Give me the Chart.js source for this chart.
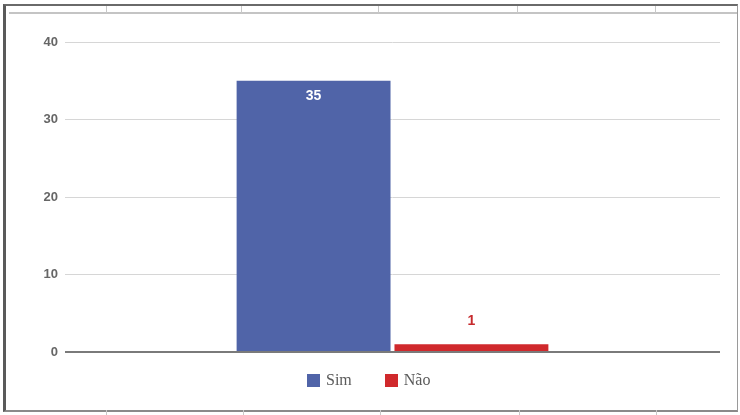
<!DOCTYPE html>
<html lang="pt">
<head>
    <meta charset="UTF-8">
    <meta name="viewport" content="width=device-width, initial-scale=1.0">
    <title>Sim / Não</title>
    <script src="https://cdn.jsdelivr.net/npm/chart.js"></script>
    <style>
        html, body {
            margin: 0;
            padding: 0;
            background: #ffffff;
        }

        .sheet {
            position: relative;
            width: 740px;
            height: 415px;
            overflow: hidden;
            background: #ffffff;
        }

        /* spreadsheet frame around the chart */
        .frame {
            position: absolute;
            left: 3px;
            top: 4px;
            width: 731px;
            height: 404px;
            border-left: 3px solid #5a5a5a;
            border-top: 2px solid #6a6a6a;
            border-right: 1px solid #9a9a9a;
            border-bottom: 2px solid #8a8a8a;
        }

        .inner-line {
            position: absolute;
            left: 9px;
            top: 12px;
            width: 728px;
            height: 2px;
            background: #c4c4c4;
        }

        .col {
            position: absolute;
            width: 1px;
            background: #c8c8c8;
        }

        #chart {
            position: absolute;
            left: 0;
            top: 0;
        }

        .legend {
            position: absolute;
            left: 307px;
            top: 371px;
            height: 18px;
            display: flex;
            align-items: center;
            font-family: 'Liberation Serif', 'DejaVu Serif', serif;
            font-size: 16px;
            color: #5a5a5a;
        }

        .legend div {
            display: flex;
            align-items: center;
            margin-right: 33px;
        }

        .legend span.box {
            width: 13px;
            height: 13px;
            display: inline-block;
            margin-right: 6px;
        }
    </style>
</head>
<body>
    <div class="sheet">
        <div class="frame"></div>
        <div class="inner-line"></div>
        <div class="col" style="left:106px; top:6px; height:7px"></div>
        <div class="col" style="left:241px; top:6px; height:7px"></div>
        <div class="col" style="left:378px; top:6px; height:7px"></div>
        <div class="col" style="left:517px; top:6px; height:7px"></div>
        <div class="col" style="left:655px; top:6px; height:7px"></div>
        <div class="col" style="left:106px; top:410px; height:5px"></div>
        <div class="col" style="left:243px; top:410px; height:5px"></div>
        <div class="col" style="left:380px; top:410px; height:5px"></div>
        <div class="col" style="left:519px; top:410px; height:5px"></div>
        <div class="col" style="left:656px; top:410px; height:5px"></div>
        <canvas id="chart" width="740" height="415"></canvas>
        <div class="legend" id="legend"></div>
    </div>

    <script>
        const categories = ['Resposta'];
        const seriesNames = ['Sim', 'Não'];
        const seriesValues = [35, 1];
        const seriesColors = ['#5064a8', '#d0292c'];
        const yTicks = [0, 10, 20, 30, 40];

        // legend row under the plot
        const legendEl = document.getElementById('legend');
        seriesNames.forEach(function (name, i) {
            const item = document.createElement('div');
            const box = document.createElement('span');
            box.className = 'box';
            box.style.backgroundColor = seriesColors[i];
            item.appendChild(box);
            item.appendChild(document.createTextNode(name));
            legendEl.appendChild(item);
        });

        // value printed inside the blue bar, above the red one
        const valueLabels = {
            id: 'valueLabels',
            afterDatasetsDraw(chart) {
                const ctx = chart.ctx;
                ctx.save();
                ctx.font = "bold 14px 'Liberation Sans', Arial, sans-serif";
                ctx.textAlign = 'center';
                ctx.textBaseline = 'middle';
                chart.data.datasets.forEach(function (ds, i) {
                    chart.getDatasetMeta(i).data.forEach(function (bar, j) {
                        const v = ds.data[j];
                        if (i === 0) {
                            ctx.fillStyle = '#ffffff';
                            ctx.fillText(v, bar.x, bar.y + 15);
                        } else {
                            ctx.fillStyle = '#c62a2d';
                            ctx.fillText(v, bar.x, bar.y - 23);
                        }
                    });
                });
                ctx.restore();
            }
        };

        const chart = new Chart(document.getElementById('chart'), {
            type: 'bar',
            data: {
                labels: categories,
                datasets: seriesNames.map(function (name, i) {
                    return {
                        label: name,
                        data: [seriesValues[i]],
                        backgroundColor: seriesColors[i],
                        borderWidth: 0,
                        categoryPercentage: 0.482,
                        barPercentage: 0.975
                    };
                })
            },
            options: {
                responsive: false,
                animation: false,
                layout: {
                    padding: { left: 5, right: 20, top: 42, bottom: 63 }
                },
                scales: {
                    x: {
                        display: false
                    },
                    y: {
                        min: 0,
                        max: 40,
                        afterFit: function (scale) { scale.width = 60; },
                        afterBuildTicks: function (scale) {
                            scale.ticks = yTicks.map(function (v) { return { value: v }; });
                        },
                        border: { display: false },
                        grid: {
                            drawTicks: false,
                            color: function (c) { return c.tick && c.tick.value === 0 ? '#7a7a7a' : '#d6d6d6'; },
                            lineWidth: function (c) { return c.tick && c.tick.value === 0 ? 2 : 1; }
                        },
                        ticks: {
                            padding: 7,
                            color: '#666666',
                            font: { family: "'Liberation Sans', Arial, sans-serif", size: 13, weight: 'bold' }
                        }
                    }
                },
                plugins: {
                    legend: { display: false },
                    tooltip: { enabled: false }
                }
            },
            plugins: [valueLabels]
        });
    </script>
</body>
</html>
